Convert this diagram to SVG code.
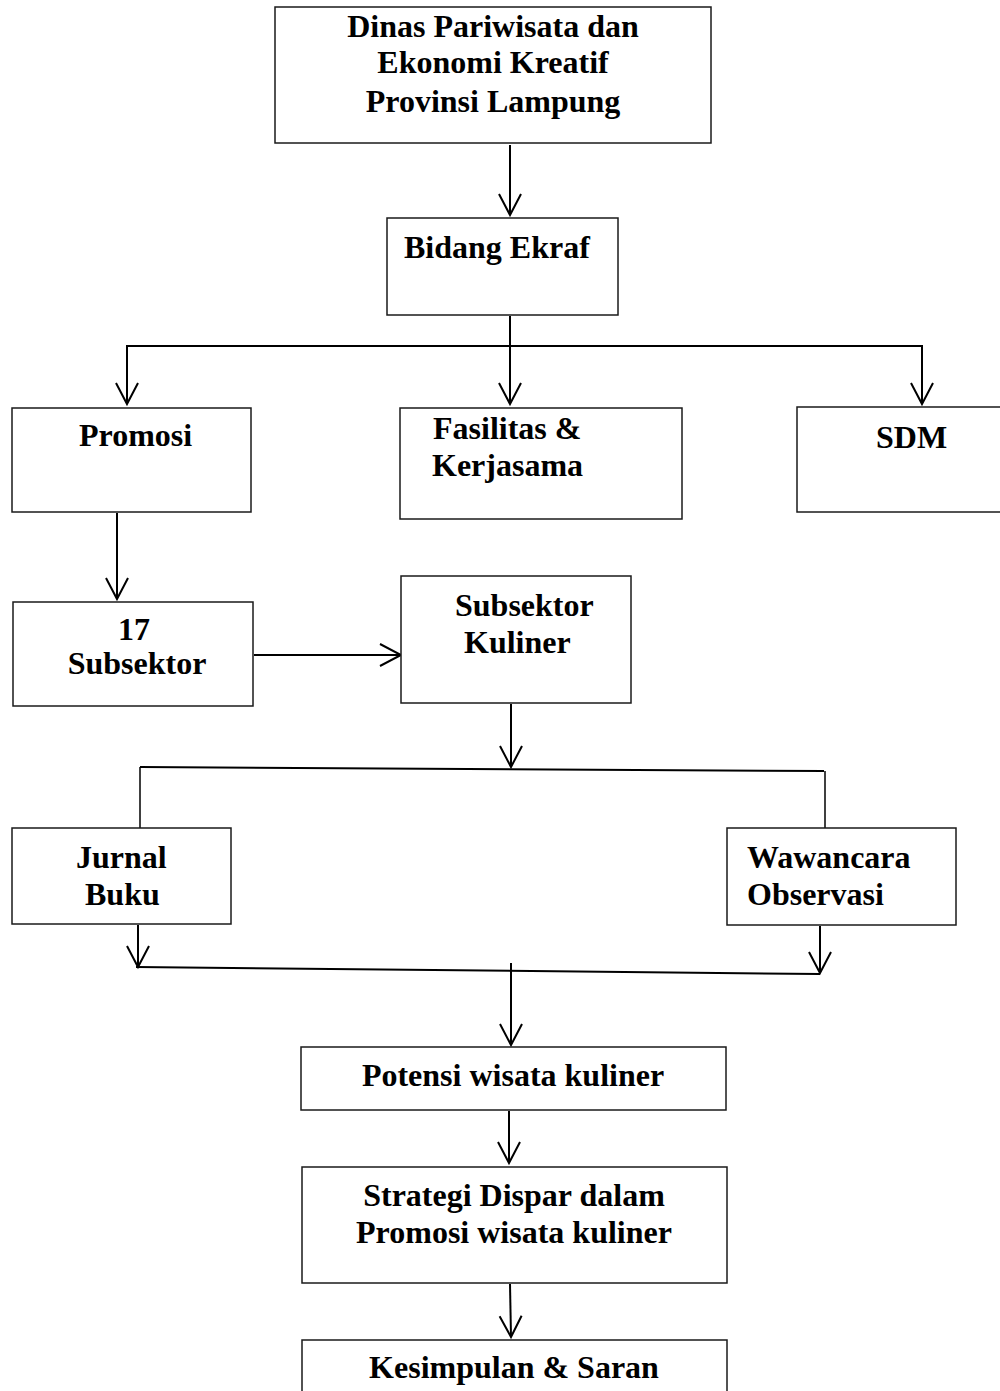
<svg xmlns="http://www.w3.org/2000/svg" width="1000" height="1391" viewBox="0 0 1000 1391">
<style>
rect{fill:#fff;stroke:#1a1a1a;stroke-width:1.5}
text{font-family:"Liberation Serif","Times New Roman",serif;font-weight:bold;font-size:32px;fill:#000}
.c{text-anchor:middle}
.ln{fill:none;stroke:#000;stroke-width:2}
</style>
<defs>
<marker id="ah" markerUnits="userSpaceOnUse" markerWidth="30" markerHeight="30" refX="0" refY="0" orient="auto" overflow="visible">
<path d="M -21 -11 L 0 0 L -21 11" fill="none" stroke="#000" stroke-width="2"/>
</marker>
</defs>
<rect x="0" y="0" width="1000" height="1391" style="fill:#fff;stroke:none"/>
<g id="connectors">
<line class="ln" x1="510" y1="145" x2="510" y2="215" marker-end="url(#ah)"/>
<line class="ln" x1="510" y1="316" x2="510" y2="404" marker-end="url(#ah)"/>
<polyline class="ln" points="127,404 127,346 922,346 922,404"/>
<line class="ln" x1="127" y1="380" x2="127" y2="404" marker-end="url(#ah)"/>
<line class="ln" x1="922" y1="380" x2="922" y2="404" marker-end="url(#ah)"/>
<line class="ln" x1="117" y1="513" x2="117" y2="599" marker-end="url(#ah)"/>
<line class="ln" x1="254" y1="655" x2="401" y2="655" marker-end="url(#ah)"/>
<line class="ln" x1="511" y1="704" x2="511" y2="767" marker-end="url(#ah)"/>
<line class="ln" x1="140" y1="767" x2="824" y2="771"/>
<line class="ln" x1="140" y1="767" x2="140" y2="828" style="stroke-width:1.5"/>
<line class="ln" x1="825" y1="771" x2="825" y2="828" style="stroke-width:1.5"/>
<line class="ln" x1="138" y1="925" x2="138" y2="967" marker-end="url(#ah)"/>
<line class="ln" x1="820" y1="926" x2="820" y2="973" marker-end="url(#ah)"/>
<line class="ln" x1="136" y1="967" x2="820" y2="974"/>
<line class="ln" x1="511" y1="963" x2="511" y2="1045" marker-end="url(#ah)"/>
<line class="ln" x1="509" y1="1111" x2="509" y2="1163" marker-end="url(#ah)"/>
<line class="ln" x1="510" y1="1284" x2="511" y2="1337" marker-end="url(#ah)"/>
</g>
<g id="n-dinas">
<rect x="275" y="7" width="436" height="136"/>
<text class="c" x="493" y="37">Dinas Pariwisata dan</text>
<text class="c" x="493" y="73">Ekonomi Kreatif</text>
<text class="c" x="493" y="112">Provinsi Lampung</text>
</g>
<g id="n-bidang">
<rect x="387" y="218" width="231" height="97"/>
<text x="404" y="258">Bidang Ekraf</text>
</g>
<g id="n-promosi">
<rect x="12" y="408" width="239" height="104"/>
<text x="79" y="446">Promosi</text>
</g>
<g id="n-fasilitas">
<rect x="400" y="408" width="282" height="111"/>
<text x="433" y="439">Fasilitas &amp;</text>
<text x="432" y="476">Kerjasama</text>
</g>
<g id="n-sdm">
<rect x="797" y="407" width="210" height="105"/>
<text x="876" y="448">SDM</text>
</g>
<g id="n-17">
<rect x="13" y="602" width="240" height="104"/>
<text class="c" x="134" y="640">17</text>
<text class="c" x="137" y="674">Subsektor</text>
</g>
<g id="n-kuliner">
<rect x="401" y="576" width="230" height="127"/>
<text x="455" y="616">Subsektor</text>
<text x="464" y="653">Kuliner</text>
</g>
<g id="n-jurnal">
<rect x="12" y="828" width="219" height="96"/>
<text x="76" y="868">Jurnal</text>
<text x="85" y="905">Buku</text>
</g>
<g id="n-wawancara">
<rect x="727" y="828" width="229" height="97"/>
<text x="747" y="868">Wawancara</text>
<text x="747" y="905">Observasi</text>
</g>
<g id="n-potensi">
<rect x="301" y="1047" width="425" height="63"/>
<text class="c" x="513" y="1086">Potensi wisata kuliner</text>
</g>
<g id="n-strategi">
<rect x="302" y="1167" width="425" height="116"/>
<text class="c" x="514" y="1206">Strategi Dispar dalam</text>
<text class="c" x="514" y="1243">Promosi wisata kuliner</text>
</g>
<g id="n-kesimpulan">
<rect x="302" y="1340" width="425" height="60"/>
<text class="c" x="514" y="1378">Kesimpulan &amp; Saran</text>
</g>
</svg>
